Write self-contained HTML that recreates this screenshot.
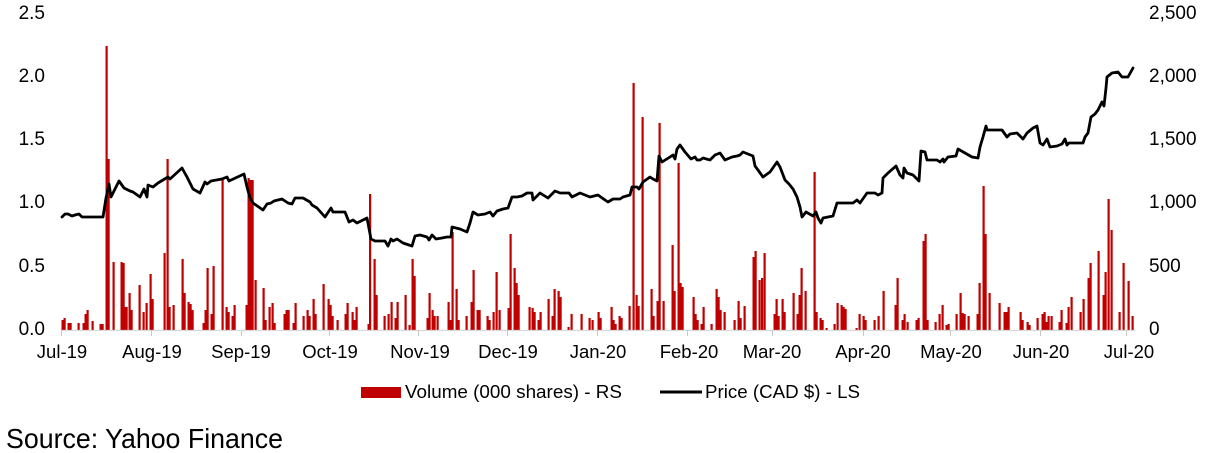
<!DOCTYPE html>
<html><head><meta charset="utf-8"><style>
html,body{margin:0;padding:0;background:#fff;}
svg{display:block;}
text{font-family:"Liberation Sans",Arial,sans-serif;fill:#000;}
</style></head><body>
<svg width="1205" height="453" viewBox="0 0 1205 453" xmlns="http://www.w3.org/2000/svg">
<rect width="1205" height="453" fill="#fff"/>
<!-- left axis labels -->
<g font-size="19" text-anchor="end">
<text x="45" y="19">2.5</text>
<text x="45" y="82">2.0</text>
<text x="45" y="145">1.5</text>
<text x="45" y="208">1.0</text>
<text x="45" y="272">0.5</text>
<text x="45" y="335">0.0</text>
</g>
<g font-size="19">
<text x="1149" y="19">2,500</text>
<text x="1149" y="82">2,000</text>
<text x="1149" y="145">1,500</text>
<text x="1149" y="208">1,000</text>
<text x="1149" y="272">500</text>
<text x="1149" y="335">0</text>
</g>
<!-- bars -->
<g fill="#c00000" id="bars"></g>
<g fill="#c00000">
<rect x="61.5" y="320" width="2.2" height="10"/><rect x="63.5" y="318" width="2.2" height="12"/><rect x="67.5" y="323" width="2.2" height="7"/><rect x="69.5" y="323" width="2.2" height="7"/><rect x="77.5" y="323" width="2.2" height="7"/><rect x="82.5" y="323" width="2.2" height="7"/><rect x="84.5" y="314" width="2.2" height="16"/><rect x="86.5" y="310" width="2.2" height="20"/><rect x="91.5" y="321" width="2.2" height="9"/><rect x="99.5" y="324" width="2.2" height="6"/><rect x="101.5" y="324" width="2.2" height="6"/><rect x="105.5" y="46" width="2.2" height="284"/><rect x="107.5" y="159" width="2.2" height="171"/><rect x="112.5" y="262" width="2.2" height="68"/><rect x="120.5" y="262" width="2.2" height="68"/><rect x="122.5" y="263" width="2.2" height="67"/><rect x="124" y="307" width="2.2" height="23"/><rect x="125.5" y="307" width="2.2" height="23"/><rect x="128.5" y="293" width="2.2" height="37"/><rect x="130.5" y="310" width="2.2" height="20"/><rect x="138.5" y="285" width="2.2" height="45"/><rect x="142.5" y="312" width="2.2" height="18"/><rect x="145.5" y="303" width="2.2" height="27"/><rect x="149.5" y="274" width="2.2" height="56"/><rect x="151.5" y="299" width="2.2" height="31"/><rect x="163.5" y="253" width="2.2" height="77"/><rect x="166.5" y="159" width="2.2" height="171"/><rect x="168.5" y="307" width="2.2" height="23"/><rect x="172.5" y="305" width="2.2" height="25"/><rect x="181.5" y="259" width="2.2" height="71"/><rect x="183.5" y="293" width="2.2" height="37"/><rect x="187.5" y="302" width="2.2" height="28"/><rect x="189.5" y="304" width="2.2" height="26"/><rect x="191.5" y="310" width="2.2" height="20"/><rect x="202.5" y="323" width="2.2" height="7"/><rect x="204.5" y="310" width="2.2" height="20"/><rect x="206.5" y="268" width="2.2" height="62"/><rect x="210.5" y="314" width="2.2" height="16"/><rect x="212.5" y="266" width="2.2" height="64"/><rect x="221.5" y="178" width="2.2" height="152"/><rect x="225.5" y="307" width="2.2" height="23"/><rect x="227.5" y="312" width="2.2" height="18"/><rect x="231.5" y="316" width="2.2" height="14"/><rect x="233.5" y="305" width="2.2" height="25"/><rect x="245.5" y="305" width="2.2" height="25"/><rect x="247.5" y="178" width="2.2" height="152"/><rect x="249.5" y="180" width="2.2" height="150"/><rect x="251.5" y="180" width="2.2" height="150"/><rect x="254.5" y="280" width="2.2" height="50"/><rect x="262.5" y="288" width="2.2" height="42"/><rect x="264.5" y="320" width="2.2" height="10"/><rect x="268.5" y="307" width="2.2" height="23"/><rect x="271.5" y="303" width="2.2" height="27"/><rect x="273.5" y="323" width="2.2" height="7"/><rect x="283.5" y="314" width="2.2" height="16"/><rect x="285.5" y="310" width="2.2" height="20"/><rect x="287.5" y="310" width="2.2" height="20"/><rect x="292.5" y="323" width="2.2" height="7"/><rect x="294.5" y="303" width="2.2" height="27"/><rect x="302.5" y="316" width="2.2" height="14"/><rect x="306.5" y="310" width="2.2" height="20"/><rect x="308.5" y="316" width="2.2" height="14"/><rect x="312.5" y="299" width="2.2" height="31"/><rect x="314.5" y="314" width="2.2" height="16"/><rect x="322.5" y="284" width="2.2" height="46"/><rect x="327.5" y="299" width="2.2" height="31"/><rect x="329.5" y="305" width="2.2" height="25"/><rect x="331.5" y="316" width="2.2" height="14"/><rect x="336.5" y="320" width="2.2" height="10"/><rect x="344.5" y="314" width="2.2" height="16"/><rect x="346.5" y="303" width="2.2" height="27"/><rect x="351.5" y="312" width="2.2" height="18"/><rect x="353.5" y="320" width="2.2" height="10"/><rect x="355.5" y="307" width="2.2" height="23"/><rect x="367.5" y="324" width="2.2" height="6"/><rect x="369" y="194" width="2.2" height="136"/><rect x="373.5" y="259" width="2.2" height="71"/><rect x="375.5" y="295" width="2.2" height="35"/>
<rect x="383.5" y="316" width="2.2" height="14"/><rect x="387.5" y="314" width="2.2" height="16"/><rect x="390.5" y="302" width="2.2" height="28"/><rect x="394.5" y="318" width="2.2" height="12"/><rect x="396.5" y="302" width="2.2" height="28"/><rect x="404.5" y="295" width="2.2" height="35"/><rect x="408.5" y="325" width="2.2" height="5"/><rect x="411.5" y="259" width="2.2" height="71"/><rect x="413.5" y="276" width="2.2" height="54"/><rect x="426.5" y="318" width="2.2" height="12"/><rect x="428.5" y="293" width="2.2" height="37"/><rect x="431.5" y="310" width="2.2" height="20"/><rect x="433.5" y="316" width="2.2" height="14"/><rect x="436.5" y="316" width="2.2" height="14"/><rect x="447.5" y="302" width="2.2" height="28"/><rect x="449.5" y="320" width="2.2" height="10"/><rect x="451.5" y="232" width="2.2" height="98"/><rect x="455.5" y="289" width="2.2" height="41"/><rect x="457.5" y="320" width="2.2" height="10"/><rect x="465.5" y="316" width="2.2" height="14"/><rect x="470.5" y="302" width="2.2" height="28"/><rect x="472.5" y="270" width="2.2" height="60"/><rect x="476.5" y="310" width="2.2" height="20"/><rect x="478.5" y="310" width="2.2" height="20"/><rect x="486.5" y="316" width="2.2" height="14"/><rect x="488.5" y="320" width="2.2" height="10"/><rect x="492.5" y="312" width="2.2" height="18"/><rect x="495.5" y="272" width="2.2" height="58"/><rect x="498.5" y="310" width="2.2" height="20"/><rect x="507.5" y="308" width="2.2" height="22"/><rect x="509.5" y="234" width="2.2" height="96"/><rect x="513.5" y="268" width="2.2" height="62"/><rect x="515.5" y="283" width="2.2" height="47"/><rect x="517.5" y="295" width="2.2" height="35"/><rect x="528.5" y="307" width="2.2" height="23"/><rect x="531.5" y="308" width="2.2" height="22"/><rect x="533.5" y="312" width="2.2" height="18"/><rect x="537.5" y="320" width="2.2" height="10"/><rect x="539.5" y="312" width="2.2" height="18"/><rect x="547.5" y="299" width="2.2" height="31"/><rect x="551.5" y="316" width="2.2" height="14"/><rect x="553.5" y="289" width="2.2" height="41"/><rect x="557.5" y="291" width="2.2" height="39"/><rect x="559.5" y="297" width="2.2" height="33"/><rect x="567.5" y="327" width="2.2" height="3"/><rect x="570.5" y="314" width="2.2" height="16"/><rect x="580.5" y="314" width="2.2" height="16"/><rect x="588.5" y="318" width="2.2" height="12"/><rect x="591.5" y="320" width="2.2" height="10"/><rect x="597.5" y="312" width="2.2" height="18"/><rect x="599.5" y="318" width="2.2" height="12"/>
<rect x="610.5" y="307" width="2.2" height="23"/><rect x="612.5" y="320" width="2.2" height="10"/><rect x="614.5" y="324" width="2.2" height="6"/><rect x="618.5" y="316" width="2.2" height="14"/><rect x="620.5" y="318" width="2.2" height="12"/><rect x="628.5" y="306" width="2.2" height="24"/><rect x="632.5" y="83" width="2.2" height="247"/><rect x="635.5" y="295" width="2.2" height="35"/><rect x="637.5" y="306" width="2.2" height="24"/><rect x="641.5" y="117" width="2.2" height="213"/><rect x="650.5" y="289" width="2.2" height="41"/><rect x="652.5" y="316" width="2.2" height="14"/><rect x="656.5" y="301" width="2.2" height="29"/><rect x="658.5" y="123" width="2.2" height="207"/><rect x="662.5" y="301" width="2.2" height="29"/><rect x="671.5" y="245" width="2.2" height="85"/><rect x="673.5" y="291" width="2.2" height="39"/><rect x="677.5" y="163" width="2.2" height="167"/><rect x="679.5" y="283" width="2.2" height="47"/><rect x="681.5" y="287" width="2.2" height="43"/><rect x="692.5" y="297" width="2.2" height="33"/><rect x="694.5" y="314" width="2.2" height="16"/><rect x="696.5" y="320" width="2.2" height="10"/><rect x="700.5" y="324" width="2.2" height="6"/><rect x="702.5" y="307" width="2.2" height="23"/><rect x="710.5" y="324" width="2.2" height="6"/><rect x="715.5" y="289" width="2.2" height="41"/><rect x="717.5" y="297" width="2.2" height="33"/><rect x="719.5" y="310" width="2.2" height="20"/><rect x="723.5" y="312" width="2.2" height="18"/><rect x="733.5" y="320" width="2.2" height="10"/><rect x="737.5" y="301" width="2.2" height="29"/><rect x="739.5" y="318" width="2.2" height="12"/><rect x="743.5" y="306" width="2.2" height="24"/><rect x="752.5" y="257" width="2.2" height="73"/><rect x="754.5" y="251" width="2.2" height="79"/><rect x="758.5" y="280" width="2.2" height="50"/><rect x="761" y="278" width="2.2" height="52"/><rect x="763.5" y="253" width="2.2" height="77"/><rect x="773.5" y="314" width="2.2" height="16"/><rect x="775.5" y="299" width="2.2" height="31"/><rect x="777.5" y="316" width="2.2" height="14"/><rect x="781.5" y="299" width="2.2" height="31"/><rect x="783.5" y="312" width="2.2" height="18"/><rect x="792.5" y="293" width="2.2" height="37"/><rect x="796.5" y="314" width="2.2" height="16"/><rect x="798.5" y="295" width="2.2" height="35"/><rect x="800.5" y="268" width="2.2" height="62"/><rect x="804.5" y="291" width="2.2" height="39"/><rect x="813.5" y="172" width="2.2" height="158"/><rect x="815.5" y="312" width="2.2" height="18"/><rect x="819.5" y="318" width="2.2" height="12"/><rect x="821.5" y="320" width="2.2" height="10"/>
<rect x="825.5" y="328" width="2.2" height="2"/><rect x="833.5" y="324" width="2.2" height="6"/><rect x="836.5" y="303" width="2.2" height="27"/><rect x="840.5" y="305" width="2.2" height="25"/><rect x="842.5" y="307" width="2.2" height="23"/><rect x="844.5" y="309" width="2.2" height="21"/><rect x="855.5" y="328" width="2.2" height="2"/><rect x="858.5" y="314" width="2.2" height="16"/><rect x="862.5" y="316" width="2.2" height="14"/><rect x="864.5" y="320" width="2.2" height="10"/><rect x="873.5" y="320" width="2.2" height="10"/><rect x="877.5" y="316" width="2.2" height="14"/><rect x="882.5" y="291" width="2.2" height="39"/><rect x="894.5" y="305" width="2.2" height="25"/><rect x="896.5" y="278" width="2.2" height="52"/><rect x="901.5" y="320" width="2.2" height="10"/><rect x="903.5" y="314" width="2.2" height="16"/><rect x="906.5" y="322" width="2.2" height="8"/><rect x="915.5" y="320" width="2.2" height="10"/><rect x="917.5" y="318" width="2.2" height="12"/><rect x="922.5" y="241" width="2.2" height="89"/><rect x="924.5" y="234" width="2.2" height="96"/><rect x="926.5" y="320" width="2.2" height="10"/><rect x="934.5" y="322" width="2.2" height="8"/><rect x="938.5" y="314" width="2.2" height="16"/><rect x="941.5" y="305" width="2.2" height="25"/><rect x="945.5" y="325" width="2.2" height="5"/><rect x="947.5" y="324" width="2.2" height="6"/><rect x="955.5" y="314" width="2.2" height="16"/><rect x="959.5" y="293" width="2.2" height="37"/><rect x="961.5" y="313" width="2.2" height="17"/><rect x="963.5" y="314" width="2.2" height="16"/><rect x="967.5" y="316" width="2.2" height="14"/><rect x="976.5" y="314" width="2.2" height="16"/><rect x="978.5" y="283" width="2.2" height="47"/><rect x="982.5" y="186" width="2.2" height="144"/><rect x="984.5" y="234" width="2.2" height="96"/><rect x="988.5" y="293" width="2.2" height="37"/><rect x="998.5" y="303" width="2.2" height="27"/><rect x="1003.5" y="312" width="2.2" height="18"/><rect x="1005.5" y="312" width="2.2" height="18"/><rect x="1007.5" y="307" width="2.2" height="23"/><rect x="1019.5" y="312" width="2.2" height="18"/><rect x="1021.5" y="320" width="2.2" height="10"/><rect x="1026.5" y="322" width="2.2" height="8"/><rect x="1028.5" y="325" width="2.2" height="5"/><rect x="1036.5" y="318" width="2.2" height="12"/><rect x="1041.5" y="314" width="2.2" height="16"/><rect x="1043.5" y="312" width="2.2" height="18"/><rect x="1045.5" y="322" width="2.2" height="8"/><rect x="1047.5" y="316" width="2.2" height="14"/><rect x="1050.5" y="316" width="2.2" height="14"/><rect x="1058.5" y="322" width="2.2" height="8"/><rect x="1060.5" y="310" width="2.2" height="20"/><rect x="1065.5" y="323" width="2.2" height="7"/><rect x="1067.5" y="307" width="2.2" height="23"/><rect x="1070.5" y="297" width="2.2" height="33"/><rect x="1079.5" y="312" width="2.2" height="18"/><rect x="1082.5" y="299" width="2.2" height="31"/><rect x="1087.5" y="278" width="2.2" height="52"/><rect x="1089.5" y="263" width="2.2" height="67"/><rect x="1097.5" y="251" width="2.2" height="79"/><rect x="1102.5" y="295" width="2.2" height="35"/><rect x="1104.5" y="272" width="2.2" height="58"/><rect x="1107.5" y="199" width="2.2" height="131"/><rect x="1110.5" y="230" width="2.2" height="100"/><rect x="1118.5" y="312" width="2.2" height="18"/><rect x="1122.5" y="263" width="2.2" height="67"/><rect x="1127.5" y="281" width="2.2" height="49"/><rect x="1131.5" y="316" width="2.2" height="14"/>
</g>
<!-- axis -->
<line x1="61" y1="330.5" x2="1135" y2="330.5" stroke="#d9d9d9" stroke-width="1.2"/>
<g stroke="#c8c8c8" stroke-width="1">
<line x1="61.5" y1="330" x2="61.5" y2="336"/><line x1="151.5" y1="330" x2="151.5" y2="336"/><line x1="241.5" y1="330" x2="241.5" y2="336"/><line x1="329.5" y1="330" x2="329.5" y2="336"/><line x1="418.5" y1="330" x2="418.5" y2="336"/><line x1="507.5" y1="330" x2="507.5" y2="336"/><line x1="597.5" y1="330" x2="597.5" y2="336"/><line x1="687.5" y1="330" x2="687.5" y2="336"/><line x1="772.5" y1="330" x2="772.5" y2="336"/><line x1="863.5" y1="330" x2="863.5" y2="336"/><line x1="950.5" y1="330" x2="950.5" y2="336"/><line x1="1040.5" y1="330" x2="1040.5" y2="336"/><line x1="1126.5" y1="330" x2="1126.5" y2="336"/>
</g>
<!-- price line -->
<polyline fill="none" stroke="#000" stroke-width="2.8" stroke-linejoin="round" stroke-linecap="round" points="62,217 65,214 68,214 72,216 75,215 79,214 82,217 103,217 106,198 109,184 111,197 115,189 119,181 124,188 130,191 133,192 140,197 144,189 147,197 148,185 153,187 158,183 163,180 168,177 170,179 182,168 187,177 193,189 200,193 205,182 207,184 211,181 222,179 227,177 229,181 244,174 247,187 250,198 253,203 263,210 267,204 271,203 274,201 282,199 288,203 292,204 295,198 303,198 310,202 312,205 317,208 325,217 331,208 333,212 345,212 349,222 353,220 357,223 367,218 371,239 375,241 385,241 388,246 391,239 393,241 397,239 403,243 412,246 415,236 420,235 427,237 429,240 432,235 436,239 442,238 447,237 451,237 452,227 460,229 467,232 470,223 473,212 478,215 485,214 490,212 493,216 497,211 503,209 508,208 512,197 517,197 522,196 527,193 532,193 533,200 540,193 548,198 555,191 560,193 569,193 572,197 580,193 590,197 598,195 605,200 608,202 613,199 620,199 623,197 630,195 632,187 637,187 639,189 643,182 650,177 653,179 657,181 659,156 662,162 670,157 673,155 675,159 677,149 680,145 685,152 691,159 695,157 697,160 700,160 703,158 710,160 715,155 720,153 725,160 732,157 737,156 740,155 743,152 753,156 755,166 758,170 763,177 770,172 777,162 780,167 785,180 789,184 793,189 797,197 800,207 802,217 806,212 813,216 816,212 818,218 821,223 823,218 833,216 837,203 853,203 857,200 860,203 867,193 875,193 878,195 882,193 883,178 888,173 896,166 900,175 903,178 904,168 907,173 913,175 919,181 921,151 925,152 927,160 937,160 940,162 943,159 944,162 948,157 956,156 958,149 965,153 972,157 978,158 980,147 983,137 986,126 987,130 1002,130 1007,137 1010,134 1017,133 1023,139 1027,133 1033,128 1037,126 1040,143 1043,145 1047,139 1050,147 1057,146 1062,144 1065,139 1067,145 1069,143 1083,143 1085,137 1088,133 1091,117 1095,114 1098,110 1102,102 1104,106 1106,88 1107,77 1112,73 1118,72 1122,77 1128,77 1133,68"/>
<!-- x labels -->
<g font-size="18.5" text-anchor="middle">
<text x="62" y="358">Jul-19</text>
<text x="152" y="358">Aug-19</text>
<text x="241" y="358">Sep-19</text>
<text x="330" y="358">Oct-19</text>
<text x="420" y="358">Nov-19</text>
<text x="508" y="358">Dec-19</text>
<text x="598" y="358">Jan-20</text>
<text x="689" y="358">Feb-20</text>
<text x="772" y="358">Mar-20</text>
<text x="863" y="358">Apr-20</text>
<text x="951" y="358">May-20</text>
<text x="1041" y="358">Jun-20</text>
<text x="1129" y="358">Jul-20</text>
</g>
<!-- legend -->
<rect x="361" y="387" width="40" height="11" fill="#c00000"/>
<text x="405" y="398" font-size="18.5" textLength="217" lengthAdjust="spacingAndGlyphs">Volume (000 shares) - RS</text>
<line x1="660" y1="392" x2="702" y2="392" stroke="#000" stroke-width="3"/>
<text x="705" y="398" font-size="18.5" textLength="155" lengthAdjust="spacingAndGlyphs">Price (CAD $) - LS</text>
<!-- source -->
<text x="6" y="448" font-size="28" textLength="277" lengthAdjust="spacingAndGlyphs">Source: Yahoo Finance</text>
</svg>
</body></html>
